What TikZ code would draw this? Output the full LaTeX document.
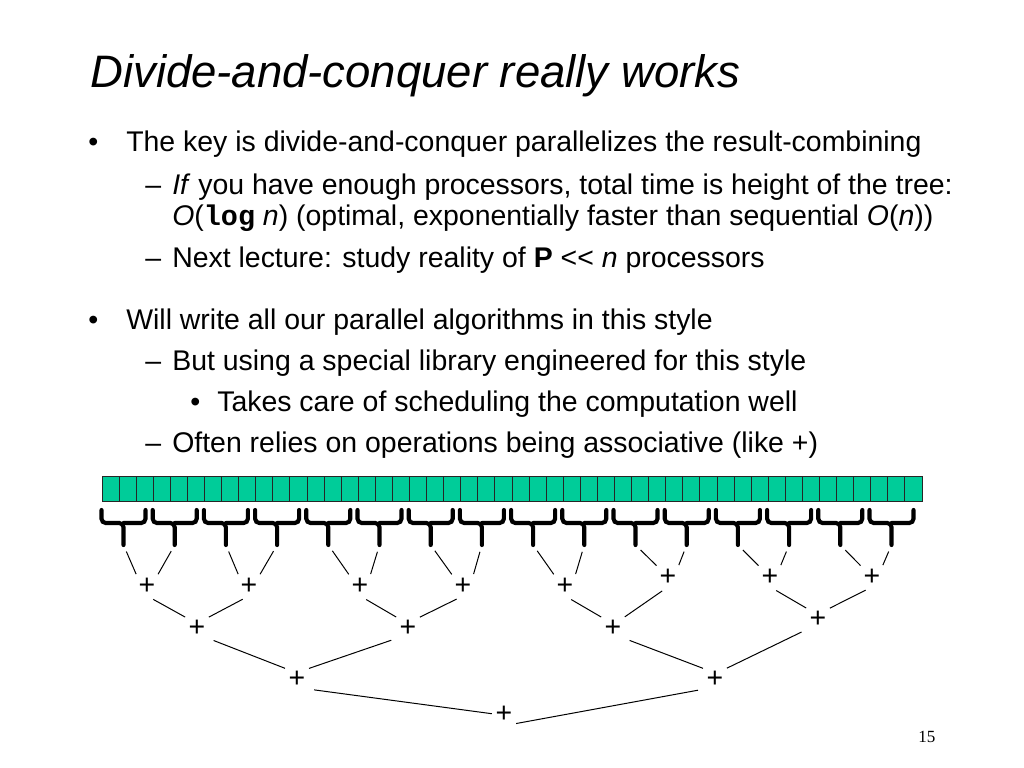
\documentclass[tikz,border=0pt]{standalone}
\usepackage{fontspec}
\setmainfont{Liberation Sans}
\setmonofont{Liberation Mono}
\newfontfamily\pagenumfont{Liberation Serif}
\definecolor{cellgreen}{RGB}{0,204,153}
\tikzset{
  titletext/.style={anchor=base west, inner sep=0pt, font=\fontsize{32}{38}\selectfont\itshape},
  slidetext/.style={anchor=base west, inner sep=0pt, font=\fontsize{20}{24}\selectfont},
  cellbox/.style={draw=black!85, fill=cellgreen, line width=0.6pt},
  bracket/.style={line width=2.9pt, rounded corners=3pt, line cap=round},
  plus/.style={inner sep=1pt, font=\fontsize{20}{24}\selectfont},
  link/.style={line width=0.7pt, shorten <=5pt, shorten >=1.5pt}
}
\begin{document}
\begin{tikzpicture}[x=0.703125pt, y=-0.703125pt]
\fill[white] (0,0) rectangle (1024,768);
\useasboundingbox (0,0) rectangle (1024,768);

% slide text
\node[titletext] (title) at (90,88) {Divide-and-conquer really works};
\node[slidetext] (dot1) at (88,152) {•};
\node[slidetext] (key) at (126,152) {The key is divide-and-conquer parallelizes the result-combining};
\node[slidetext] (dash1) at (145,195) {–};
\node[slidetext] (ifline) at (172,195) {\textit{If} you have enough processors, total time is height of the tree:};
\node[slidetext] (ologn) at (172,226) {\textit{O}(\texttt{\bfseries log} \textit{n}) (optimal, exponentially faster than sequential \textit{O}(\textit{n}))};
\node[slidetext] (dash2) at (145,268) {–};
\node[slidetext] (next) at (172,268) {Next lecture: study reality of \textbf{P} <{}< \textit{n} processors};
\node[slidetext] (dot2) at (88,330) {•};
\node[slidetext] (write) at (126,330) {Will write all our parallel algorithms in this style};
\node[slidetext] (dash3) at (145,370) {–};
\node[slidetext] (library) at (172,370) {But using a special library engineered for this style};
\node[slidetext] (dot3) at (190,411) {•};
\node[slidetext] (sched) at (217,411) {Takes care of scheduling the computation well};
\node[slidetext] (dash4) at (145,452) {–};
\node[slidetext] (assoc) at (172,452) {Often relies on operations being associative (like +)};
\node[anchor=base west, inner sep=0pt, font=\pagenumfont\fontsize{12}{14}\selectfont] (pagenum) at (918,742) {15};

% the array
\foreach \i in {0,...,47}
  \draw[cellbox] ({102+\i*17.083},476) rectangle ++(17.083,25);

% braces under groups of three
\foreach \k in {0,...,15} {
  \pgfmathsetmacro\bx{123.5+51.2*\k}
  \draw[bracket] (\bx-22,510) |- (\bx,523) -- (\bx,545);
  \draw[bracket] (\bx+22,510) |- (\bx,523);
  \coordinate (b\k) at (\bx,545);
}

% combining tree
\node[plus] (p1) at (147,586) {+};
\node[plus] (p2) at (249,586) {+};
\node[plus] (p3) at (360,586) {+};
\node[plus] (p4) at (463,586) {+};
\node[plus] (p5) at (565,586) {+};
\node[plus] (p6) at (668,577) {+};
\node[plus] (p7) at (770,577) {+};
\node[plus] (p8) at (872,577) {+};
\node[plus] (q1) at (197,628) {+};
\node[plus] (q2) at (408,628) {+};
\node[plus] (q3) at (613,628) {+};
\node[plus] (q4) at (818,619) {+};
\node[plus] (r1) at (297,679) {+};
\node[plus] (r2) at (715,679) {+};
\node[plus] (s) at (504,714) {+};

\draw[link] (b0) -- (p1.north west);
\draw[link] (b1) -- (p1.north east);
\draw[link] (b2) -- (p2.north west);
\draw[link] (b3) -- (p2.north east);
\draw[link] (b4) -- (p3.north west);
\draw[link] (b5) -- (p3.north east);
\draw[link] (b6) -- (p4.north west);
\draw[link] (b7) -- (p4.north east);
\draw[link] (b8) -- (p5.north west);
\draw[link] (b9) -- (p5.north east);
\draw[link] (b10) -- (p6.north west);
\draw[link] (b11) -- (p6.north east);
\draw[link] (b12) -- (p7.north west);
\draw[link] (b13) -- (p7.north east);
\draw[link] (b14) -- (p8.north west);
\draw[link] (b15) -- (p8.north east);

\draw[link] (p1.south) -- (q1.north west);
\draw[link] (p2.south) -- (q1.north east);
\draw[link] (p3.south) -- (q2.north west);
\draw[link] (p4.south) -- (q2.north east);
\draw[link] (p5.south) -- (q3.north west);
\draw[link] (p6.south) -- (q3.north east);
\draw[link] (p7.south) -- (q4.north west);
\draw[link] (p8.south) -- (q4.north east);

\draw[link] (q1.south east) -- (r1.north west);
\draw[link] (q2.south west) -- (r1.north east);
\draw[link] (q3.south east) -- (r2.north west);
\draw[link] (q4.south west) -- (r2.north east);

\draw[link] (r1.south east) -- (s.west);
\draw[link] (r2.south west) -- (s.south east);

\end{tikzpicture}
\end{document}
